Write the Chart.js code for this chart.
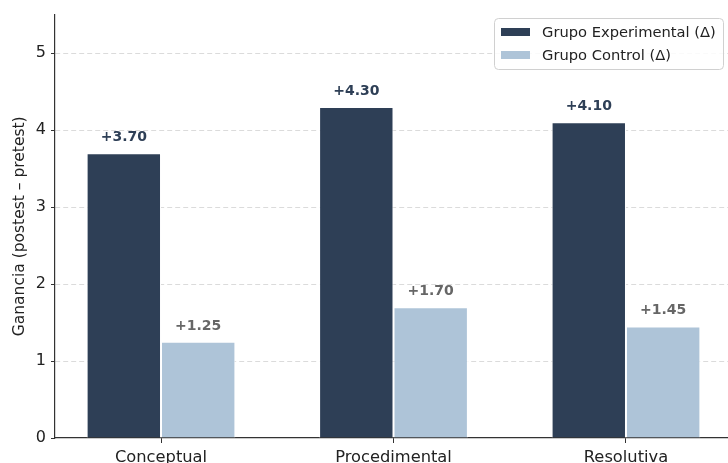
<!DOCTYPE html>
<html>
<head>
<meta charset="utf-8">
<script src="https://cdn.jsdelivr.net/npm/chart.js@4/dist/chart.umd.min.js"></script>
<style>
  html, body { margin: 0; padding: 0; background: #fff; overflow: hidden; }
  #wrap { position: relative; width: 732px; height: 463px; }
</style>
</head>
<body>
<div id="wrap"><canvas id="c"></canvas></div>
<script>
// Dimensiones evaluadas y ganancias medias (postest - pretest)
const categories = ['Conceptual', 'Procedimental', 'Resolutiva'];
const experimentalGain = [3.70, 4.30, 4.10];
const controlGain = [1.25, 1.70, 1.45];
const seriesNames = ['Grupo Experimental (Δ)', 'Grupo Control (Δ)'];
const yTicks = [0, 1, 2, 3, 4, 5];

const DARK = '#2e3f56';
const LIGHT = '#aec4d8';
const FONT = '"DejaVu Sans", "Liberation Sans", sans-serif';

const toPoints = vals => vals.map((v, i) => ({ x: i, y: v }));

// Etiquetas de valor sobre cada barra
const valueLabels = {
  id: 'valueLabels',
  afterDatasetsDraw(chart) {
    const ctx = chart.ctx;
    const colors = ['#2e3f56', '#666666'];
    chart.data.datasets.forEach((ds, di) => {
      const meta = chart.getDatasetMeta(di);
      meta.data.forEach((bar, i) => {
        const v = ds.data[i].y;
        ctx.save();
        ctx.font = 'bold 14px ' + FONT;
        ctx.fillStyle = colors[di];
        ctx.textAlign = 'center';
        ctx.textBaseline = 'alphabetic';
        ctx.fillText('+' + v.toFixed(2), bar.x, bar.y - 12);
        ctx.restore();
      });
    });
  }
};

// Leyenda con recuadro en la esquina superior derecha
const boxedLegend = {
  id: 'boxedLegend',
  afterDraw(chart) {
    const ctx = chart.ctx;
    const x0 = 494, y0 = 18, w = 229, h = 51, r = 4;
    ctx.save();
    ctx.beginPath();
    ctx.roundRect(x0 + 0.5, y0 + 0.5, w, h, r);
    ctx.fillStyle = 'rgba(255,255,255,0.85)';
    ctx.fill();
    ctx.strokeStyle = '#d0d0d0';
    ctx.lineWidth = 1;
    ctx.stroke();
    const rows = [32, 55];
    chart.data.datasets.forEach((ds, i) => {
      ctx.fillStyle = ds.backgroundColor;
      ctx.fillRect(501, rows[i] - 4, 29, 8);
      ctx.fillStyle = '#222';
      ctx.font = '14.7px ' + FONT;
      ctx.textAlign = 'left';
      ctx.textBaseline = 'middle';
      ctx.fillText(ds.label, 542, rows[i] + 1);
    });
    ctx.restore();
  }
};

new Chart(document.getElementById('c'), {
  type: 'bar',
  data: {
    datasets: [
      { label: seriesNames[0], data: toPoints(experimentalGain), backgroundColor: DARK, borderColor: '#ffffff', borderWidth: 1 },
      { label: seriesNames[1], data: toPoints(controlGain), backgroundColor: LIGHT, borderColor: '#ffffff', borderWidth: 1 }
    ]
  },
  options: {
    responsive: true,
    maintainAspectRatio: false,
    animation: false,
    devicePixelRatio: 1,
    layout: { padding: { top: 12, right: 0, left: 0, bottom: 0 } },
    datasets: { bar: { categoryPercentage: 0.64, barPercentage: 1.0, grouped: true } },
    plugins: {
      legend: { display: false },
      tooltip: { enabled: false }
    },
    scales: {
      x: {
        type: 'linear',
        offset: false,
        min: -0.456,
        max: 2.456,
        afterBuildTicks(scale) {
          scale.ticks = categories.map((_, i) => ({ value: i }));
        },
        afterFit(scale) { scale.height = 25; },
        ticks: {
          includeBounds: false,
          padding: 5,
          color: '#222',
          font: { family: FONT, size: 16.3 },
          callback: v => categories[v] ?? ''
        },
        grid: { offset: false, drawOnChartArea: false, drawTicks: true, tickLength: 5, tickColor: '#333', tickWidth: 1 },
        border: { display: true, color: '#333', width: 1.2 }
      },
      y: {
        min: 0,
        max: 5.5,
        afterBuildTicks(scale) {
          scale.ticks = yTicks.map(v => ({ value: v }));
        },
        afterFit(scale) { scale.width = 55; },
        ticks: {
          includeBounds: false,
          stepSize: 1,
          padding: 5,
          color: '#222',
          font: { family: FONT, size: 16 }
        },
        grid: {
          drawTicks: true,
          tickLength: 4,
          tickColor: '#333',
          tickWidth: 1,
          tickBorderDash: [],
          lineWidth: 1,
          color: ctx => (ctx.tick && ctx.tick.value === 0) ? 'rgba(0,0,0,0)' : 'rgba(0,0,0,0.14)'
        },
        border: { display: true, color: '#333', width: 1.2, dash: [5, 3] },
        title: {
          display: true,
          text: 'Ganancia (postest – pretest)',
          color: '#222',
          font: { family: FONT, size: 15.5 },
          padding: { top: 11, bottom: 0 }
        }
      }
    }
  },
  plugins: [valueLabels, boxedLegend]
});
</script>
</body>
</html>
